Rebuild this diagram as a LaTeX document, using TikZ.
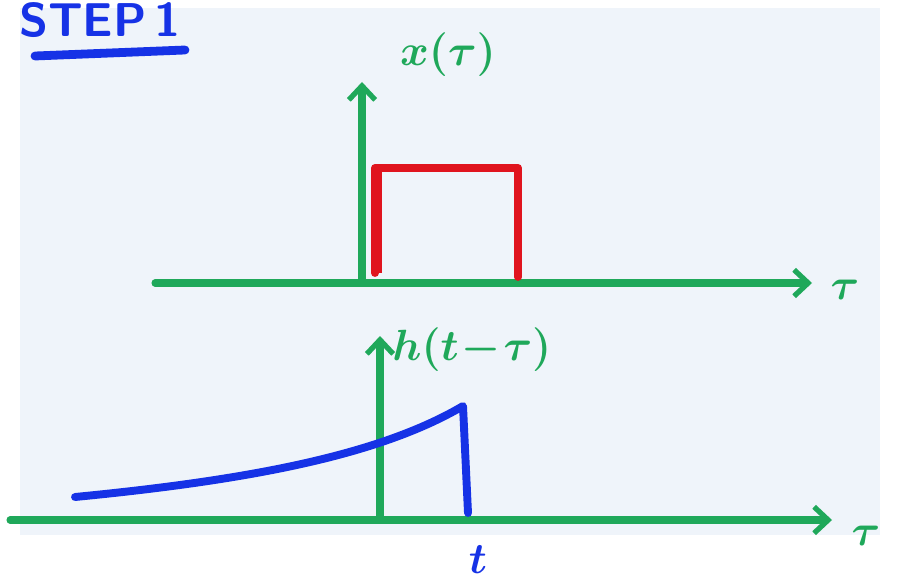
\documentclass[tikz,border=0pt]{standalone}
\usepackage{xcolor}
\usepackage{tikz}
\usetikzlibrary{arrows.meta, positioning, calc}
\definecolor{pen}{HTML}{1FA85A}
\definecolor{pulse}{HTML}{E0141E}
\definecolor{ink}{HTML}{1632E6}
\definecolor{paper}{HTML}{EFF4FA}

\begin{document}
\begin{tikzpicture}[
  x=0.02cm, y=-0.02cm,
  axis/.style={draw=pen, line width=4pt, line cap=round,
               -{Straight Barb[length=8pt, width=15pt, line width=3pt]}},
  lbl/.style={text=pen, font=\boldmath\fontsize{36}{40}\selectfont, inner sep=0pt},
  sig/.style={line width=4.5pt, line cap=round, line join=round}
]
  % Page and paper
  \useasboundingbox (0,0) rectangle (898,587);
  \fill[white] (0,0) rectangle (898,587);
  \fill[paper] (20,8) rectangle (880,535);

  % Title
  \node[text=ink, font=\sffamily\bfseries\fontsize{27}{30}\selectfont, inner sep=0pt]
    (title) at (100,20) {STEP\,1};
  \coordinate (ulA) at (35,56);
  \coordinate (ulB) at (185,50);
  \draw[draw=ink, line width=5pt, line cap=round] (ulA) -- (ulB);

  % Top: x(tau)
  \coordinate (o1) at (362,283);
  \coordinate (x1s) at (155,283);
  \coordinate (x1e) at (812,283);
  \coordinate (y1e) at (362,82);
  \draw[axis] (x1s) -- (x1e);
  \draw[axis] (o1) -- (y1e);
  \node[lbl] (tau1) at (845,290) {$\tau$};
  \node[lbl] (xlab) at (448,55) {$x(\tau)$};

  % Rectangular pulse
  \coordinate (pa) at (375,273);
  \coordinate (pb) at (375,168);
  \coordinate (pc) at (518,168);
  \coordinate (pd) at (518,277);
  \draw[sig, draw=pulse] (pa) -- (pb) -- (pc) -- (pd);
  \draw[draw=pulse, line width=3pt] ($(pa)+(4,0)$) -- ($(pb)+(4,4)$);

  % Bottom: h(t-tau)
  \coordinate (o2) at (380,520);
  \coordinate (x2s) at (10,520);
  \coordinate (x2e) at (832,520);
  \coordinate (y2e) at (380,336);
  \draw[axis] (x2s) -- (x2e);
  \draw[axis] (o2) -- (y2e);
  \node[lbl] (tau2) at (866,536) {$\tau$};
  \node[lbl, anchor=west] (hlab) at (392,350) {$h(t\!-\!\tau)$};

  % Flipped impulse response
  \coordinate (h0) at (75,497);
  \coordinate (hp) at (463,406);
  \coordinate (ht) at (468,513);
  \draw[sig, draw=ink] (h0) .. controls (250,480) and (380,455) .. (hp) -- (ht);
  \node[text=ink, font=\boldmath\fontsize{38}{42}\selectfont, inner sep=0pt]
    (tlab) at (478,560) {$t$};
\end{tikzpicture}
\end{document}
